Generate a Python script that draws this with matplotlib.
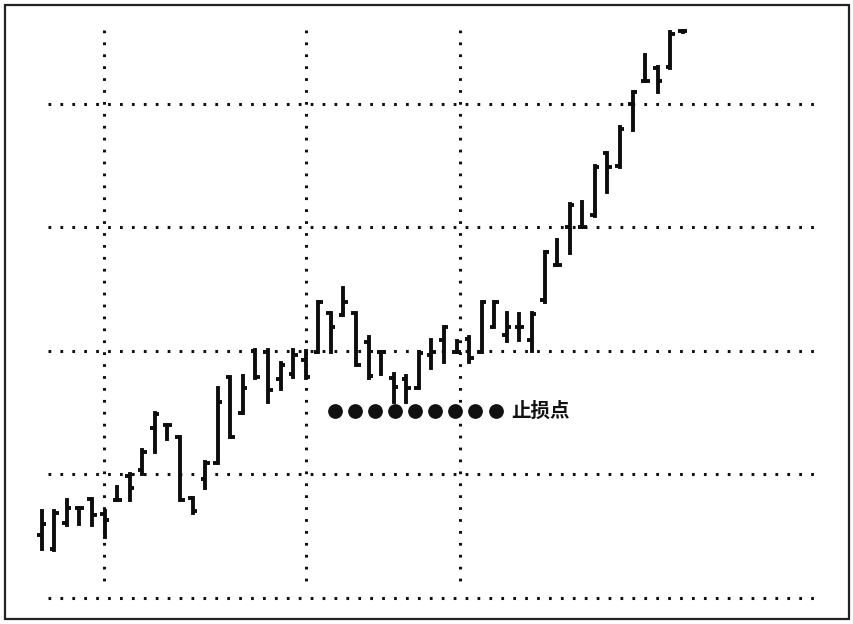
import matplotlib
matplotlib.use("Agg")
import matplotlib.pyplot as plt
from matplotlib.patches import Rectangle

plt.rcParams['font.family'] = ['Noto Sans CJK SC', 'DejaVu Sans']

# ---- data: daily bars (high, low, open, close) ----------------------
highs = [17.0, 17.0, 17.9, 17.3, 18.0, 17.0, 19.0, 20.0, 22.0, 25.0,
         24.0, 23.0, 18.1, 21.0, 27.0, 27.9, 28.0, 30.1, 30.1, 29.0,
         30.1, 30.0, 34.0, 33.1, 35.1, 33.1, 31.1, 29.9, 28.1, 28.0,
         29.9, 30.9, 31.9, 30.8, 31.1, 34.0, 34.0, 33.1, 33.0, 33.1,
         38.0, 39.0, 41.9, 42.1, 45.0, 46.0, 48.1, 51.0, 54.0, 53.0,
         55.8, 55.9]
lows = [14.0, 13.9, 15.9, 16.0, 15.9, 14.9, 17.9, 17.9, 20.0, 21.8,
        22.9, 17.9, 16.9, 18.9, 20.9, 23.0, 25.0, 27.8, 25.9, 26.9,
        27.9, 27.8, 29.9, 29.9, 32.9, 28.9, 27.8, 28.1, 25.9, 25.9,
        27.0, 28.6, 29.1, 29.9, 29.1, 29.9, 31.9, 30.8, 30.9, 30.0,
        34.0, 37.0, 37.9, 40.0, 40.9, 42.9, 44.9, 47.9, 51.9, 51.0,
        52.9, 55.8]
opens = [15.1, 14.0, 16.1, 17.3, 18.0, 16.8, 17.9, 19.9, 20.4, 23.8,
         24.0, 23.0, 18.1, 19.6, 20.9, 27.9, 25.0, 30.0, 29.9, 27.7,
         28.1, 29.3, 29.9, 33.1, 32.9, 33.1, 30.7, 29.9, 27.8, 27.7,
         27.0, 29.7, 30.9, 29.9, 31.0, 29.9, 31.9, 31.3, 31.9, 30.9,
         34.1, 37.0, 40.0, 40.0, 41.0, 46.0, 45.0, 50.0, 51.9, 52.9,
         53.0, 55.9]
closes = [16.0, 16.9, 17.3, 17.3, 16.7, 16.3, 17.9, 18.9, 21.8, 24.9,
          24.0, 17.9, 17.0, 20.9, 25.9, 23.0, 27.0, 27.9, 26.8, 28.9,
          29.7, 27.9, 34.0, 31.9, 34.0, 28.9, 28.0, 29.9, 27.1, 27.0,
          29.8, 29.9, 31.9, 29.9, 29.4, 34.0, 34.0, 31.9, 31.9, 33.0,
          38.0, 37.0, 41.8, 40.0, 44.9, 44.9, 48.0, 51.0, 51.9, 51.9,
          55.7, 55.9]

grid_prices = [10, 20, 30, 40, 50]
grid_days = [4.96, 21.03, 33.28]

stop_price = 25.1
stop_days = [23.3, 24.9, 26.5, 28.1, 29.7, 31.3, 32.9, 34.5, 36.1]
stop_label = "止损点"

# ---- figure ----------------------------------------------------------
fig = plt.figure(figsize=(8.54, 6.24), dpi=100)
ax = fig.add_axes([0, 0, 1, 1])
ax.set_xlim(-3.32, 64.62)
ax.set_ylim(7.89, 58.42)
ax.axis("off")

dots = (0, (0.9, 3.0))
ax.hlines(grid_prices, 0.5, 62.1, colors="#111111", linewidth=2.2,
          linestyles=[dots])
# draw the verticals top-down so the dot run starts near the top edge
ax.vlines(grid_days, 56.0, 10.65, colors="#111111", linewidth=2.2,
          linestyles=[dots])

days = list(range(len(highs)))
tick = 0.36
ax.vlines(days, lows, highs, colors="#0d0d0d", linewidth=2.8,
          capstyle="projecting")
ax.hlines(opens, [d - tick for d in days], days, colors="#0d0d0d",
          linewidth=2.8)
ax.hlines(closes, days, [d + tick for d in days], colors="#0d0d0d",
          linewidth=2.8)

ax.scatter(stop_days, [stop_price] * len(stop_days), s=92,
           color="#111111", zorder=3)
ax.text(37.35, stop_price, stop_label, fontsize=14, fontweight="bold",
        va="center", ha="left", color="#111111")

fig.add_artist(Rectangle((5 / 854, 5 / 624), 844 / 854, 614 / 624,
                         transform=fig.transFigure, fill=False,
                         edgecolor="#222222", linewidth=1.6))

fig.savefig("out.png", dpi=100, facecolor="white")
